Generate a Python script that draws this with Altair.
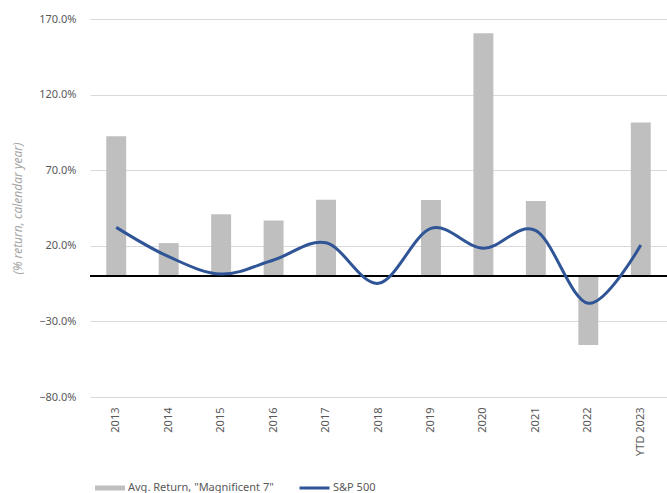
import altair as alt
import pandas as pd

categories = ["2013", "2014", "2015", "2016", "2017", "2018", "2019", "2020", "2021", "2022", "YTD 2023"]
mag7 = [92.5, 21.8, 40.8, 36.8, 50.5, 0.0, 50.3, 160.5, 49.6, -45.6, 101.6]
sp500 = [32.2, 12.8, 1.3, 10.6, 22.0, -4.8, 31.5, 18.3, 30.0, -18.0, 20.5]
y_ticks = [-80, -30, 20, 70, 120, 170]

bar_name = 'Avg. Return, "Magnificent 7"'
line_name = "S&P 500"

df = pd.DataFrame({
    "year": categories,
    "mag7": mag7,
    "sp500": sp500,
    "bar_series": [bar_name] * len(categories),
    "line_series": [line_name] * len(categories),
})

FONT = "Noto Sans"
GRAY = "#595959"

x_scale = alt.Scale(paddingInner=0.62, paddingOuter=0.31)
x_axis = alt.Axis(labelAngle=-90, labelFont=FONT, labelFontSize=11, labelColor=GRAY,
                  ticks=False, domain=False, grid=False, tickExtra=False, labelPadding=10,
                  labelBaseline="middle", labelAlign="right")
y_scale = alt.Scale(domain=[-80, 170], nice=False)
y_axis = alt.Axis(values=y_ticks, labelExpr="format(datum.value, '.1f') + '%'",
                  labelFont=FONT, labelFontSize=11, labelColor=GRAY,
                  ticks=False, domain=False, labelPadding=14,
                  gridColor="#d9d9d9", gridWidth=1,
                  titleFont=FONT, titleFontSize=12, titleFontStyle="italic",
                  titleFontWeight="normal", titleColor="#a6a6a6", titlePadding=14)
Y_TITLE = "(% return, calendar year)"

bars = alt.Chart(df).mark_bar(color="#bfbfbf").encode(
    x=alt.X("year:N", sort=categories, title=None, scale=x_scale, axis=x_axis),
    y=alt.Y("mag7:Q", scale=y_scale, title=Y_TITLE, axis=y_axis),
    color=alt.Color("bar_series:N", scale=alt.Scale(domain=[bar_name], range=["#bfbfbf"]),
                    legend=alt.Legend(title=None, orient="none", legendX=5, legendY=462,
                                      symbolType="M-1,-0.17H1V0.17H-1Z", symbolSize=900,
                                      clipHeight=14,
                                      symbolStrokeWidth=0, labelFont=FONT, labelFontSize=11,
                                      labelColor=GRAY, labelOffset=3)),
)

zero = alt.Chart(df).mark_rule(color="black", strokeWidth=1).encode(
    y=alt.Y("z:Q", scale=y_scale, title=Y_TITLE, axis=y_axis),
).transform_calculate(z="0")

line = alt.Chart(df).mark_line(interpolate="cardinal", strokeWidth=3).encode(
    x=alt.X("year:N", sort=categories, title=None, scale=x_scale, axis=x_axis),
    y=alt.Y("sp500:Q", scale=y_scale, title=Y_TITLE, axis=y_axis),
    stroke=alt.Stroke("line_series:N", scale=alt.Scale(domain=[line_name], range=["#2f5597"]),
                      legend=alt.Legend(title=None, orient="none", legendX=208, legendY=462,
                                        symbolType="stroke", symbolSize=900, symbolStrokeWidth=3,
                                        clipHeight=14,
                                        labelFont=FONT, labelFontSize=11, labelColor=GRAY,
                                        labelOffset=2)),
)

chart = alt.layer(bars, zero, line).resolve_scale(color="independent").properties(
    width=577, height=378,
    background="white",
    view=alt.ViewBackground(stroke="transparent", strokeWidth=0),
    autosize=alt.AutoSizeParams(type="none"),
    padding={"left": 90, "top": 19, "right": 0, "bottom": 96},
).configure_view(strokeWidth=0, stroke="transparent").configure_axis(
    domain=False, ticks=False
).configure_axisBand(grid=False, tickExtra=False).configure_axisX(grid=False, domain=False)

chart.save("out.html", embed_options={"renderer": "svg", "actions": False})
